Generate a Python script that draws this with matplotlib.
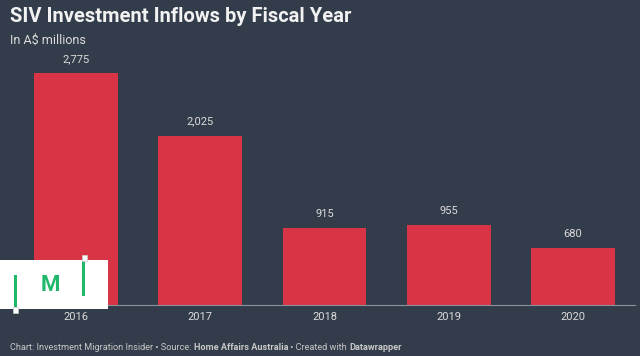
import matplotlib
matplotlib.use("Agg")
import matplotlib.pyplot as plt
from matplotlib.patches import Rectangle

years = ["2016", "2017", "2018", "2019", "2020"]
inflows = [2775, 2025, 915, 955, 680]
value_labels = ["2,775", "2,025", "915", "955", "680"]

title = "SIV Investment Inflows by Fiscal Year"
subtitle = "In A$ millions"
footer = [("Chart: Investment Migration Insider \u2022 Source: ", "normal"),
          ("Home Affairs Australia", "bold"),
          (" \u2022 Created with ", "normal"),
          ("Datawrapper", "bold")]

bg = "#333c4a"
bar_color = "#d93445"
text_color = "#dcdcdc"

plt.rcParams['font.family'] = ['Roboto', 'DejaVu Sans']

W, H = 640, 356
fig = plt.figure(figsize=(W / 100, H / 100), dpi=100, facecolor=bg)
ax = fig.add_axes([14 / W, 51 / H, 621 / W, 251 / H])
ax.set_facecolor(bg)

x = range(len(years))
ax.bar(x, inflows, width=0.676, color=bar_color, zorder=2)
for i, (v, lab) in enumerate(zip(inflows, value_labels)):
    ax.annotate(lab, (i, v), xytext=(0, 6.5), textcoords="offset points",
                ha="center", va="bottom", color=text_color, fontsize=8)

ax.set_xlim(-0.5, len(years) - 0.5)
ax.set_ylim(0, 3000)
ax.set_xticks(list(x))
ax.set_xticklabels(years, color=text_color, fontsize=8)
ax.tick_params(axis="x", length=0, pad=5)
ax.set_yticks([])
for s in ["top", "right", "left"]:
    ax.spines[s].set_visible(False)
ax.spines["bottom"].set_color("#8a929c")
ax.spines["bottom"].set_linewidth(0.8)
ax.spines["bottom"].set_zorder(3)

fig.text(10 / W, 1 - 17 / H, title, fontsize=14.5, fontweight="bold",
         color="#f2f2f2", va="center", ha="left")
fig.text(10 / W, 1 - 40 / H, subtitle, fontsize=9, color=text_color,
         va="center", ha="left")

# footer with mixed weights
renderer = fig.canvas.get_renderer()
xpos = 10
for txt, wt in footer:
    t = fig.text(xpos / W, 1 - 347 / H, txt, fontsize=6.6, fontweight=wt,
                 color="#c8c8c8", va="center", ha="left")
    xpos += t.get_window_extent(renderer).width

# logo overlay
green = "#1fb86a"
fig.patches.append(Rectangle((0, 1 - 309 / H), 108 / W, 49 / H,
                             transform=fig.transFigure, facecolor="white",
                             edgecolor="none", zorder=5))
fig.patches.append(Rectangle((14 / W, 1 - 307 / H), 3 / W, 32 / H,
                             transform=fig.transFigure, facecolor=green,
                             edgecolor="none", zorder=6))
fig.patches.append(Rectangle((12.5 / W, 1 - 313 / H), 5 / W, 6 / H,
                             transform=fig.transFigure, facecolor="white",
                             edgecolor="#cccccc", lw=0.5, zorder=6))
fig.patches.append(Rectangle((82 / W, 1 - 296 / H), 3 / W, 37 / H,
                             transform=fig.transFigure, facecolor=green,
                             edgecolor="none", zorder=6))
fig.patches.append(Rectangle((81.5 / W, 1 - 261 / H), 5 / W, 6 / H,
                             transform=fig.transFigure, facecolor="white",
                             edgecolor="#cccccc", lw=0.5, zorder=6))
fig.text(50 / W, 1 - 285 / H, "M", fontsize=16, fontweight="bold",
         color=green, ha="center", va="center", zorder=7)

fig.savefig("out.png", dpi=100, facecolor=bg)
